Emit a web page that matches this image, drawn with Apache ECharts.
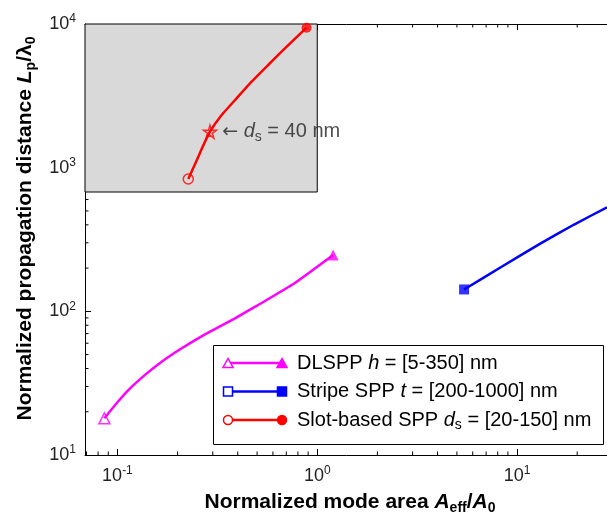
<!DOCTYPE html>
<html>
<head>
<meta charset="utf-8">
<script src="https://cdn.jsdelivr.net/npm/echarts@6/dist/echarts.min.js"></script>
<style>
  html, body { margin: 0; padding: 0; background: #fff; }
  #chart { width: 607px; height: 523px; }
</style>
</head>
<body>
<div id="chart"></div>
<script>
// DLSPP, h = [5-350] nm
const dlsppArea = [0.0860, 0.0973, 0.1134, 0.1374, 0.1665, 0.2097, 0.2742, 0.3873, 0.5266, 0.7727, 1.201];
const dlsppLength = [18.0, 22.3, 28.3, 36.1, 44.6, 55.3, 69.2, 89.4, 114.3, 157.4, 246.6];
// stripe SPP, t = [200-1000] nm (runs off the right edge)
const stripeArea = [5.43, 8.41, 13.0, 19.3, 28.2];
const stripeLength = [142, 205, 295, 402, 530];
// slot-based SPP, ds = [20-150] nm
const slotArea = [0.2262, 0.2443, 0.2639, 0.2904, 0.3322, 0.3948, 0.4693, 0.5680, 0.6887, 0.8842];
const slotLength = [834, 1055, 1349, 1780, 2325, 3039, 3966, 5183, 6771, 9424];
// ds = 40 nm point
const slotMark = [0.2904, 1780];
// shaded region
const insetArea = [0.0688, 1];
const insetLength = [677, 10000];

const xRange = [0.0688, 35.5];
const yRange = [10, 10000];
const xMinorTicks = [0.07, 0.08, 0.09, 0.2, 0.3, 0.4, 0.5, 0.6, 0.7, 0.8, 0.9, 2, 3, 4, 5, 6, 7, 8, 9, 20, 30];
const yMinorTicks = [20, 30, 40, 50, 60, 70, 80, 90, 200, 300, 400, 500, 600, 700, 800, 900,
  2000, 3000, 4000, 5000, 6000, 7000, 8000, 9000];

const FONT = "'Liberation Sans', Arial, sans-serif";
const MAGENTA = '#ff00ff', BLUE = '#0000ff', RED = '#ff0000';

const chart = echarts.init(document.getElementById('chart'));

function pairs(xs, ys) {
  return xs.map((x, i) => [x, ys[i]]);
}

// 10^n labels
function powLabel(v) {
  const e = Math.log10(v);
  const r = Math.round(e);
  if (Math.abs(e - r) > 1e-6) return '';
  return '{b|10}{s|' + r + '}';
}

const tickRich = {
  b: { fontFamily: FONT, fontSize: 18, color: '#222', lineHeight: 22 },
  s: { fontFamily: FONT, fontSize: 12, color: '#222', lineHeight: 12, verticalAlign: 'top' }
};

const titleRich = {
  b: { fontFamily: FONT, fontSize: 21, fontWeight: 'bold', color: '#000', lineHeight: 26 },
  bi: { fontFamily: FONT, fontSize: 21, fontWeight: 'bold', fontStyle: 'italic', color: '#000', lineHeight: 26 },
  bs: { fontFamily: FONT, fontSize: 14, fontWeight: 'bold', color: '#000', lineHeight: 14, verticalAlign: 'bottom' }
};

const textRich = {
  n: { fontFamily: FONT, fontSize: 20, color: '#222', lineHeight: 24 },
  a: { fontFamily: "'DejaVu Sans', sans-serif", fontSize: 19, color: '#222', lineHeight: 24 },
  i: { fontFamily: FONT, fontSize: 20, fontStyle: 'italic', color: '#222', lineHeight: 24 },
  sub: { fontFamily: FONT, fontSize: 14, color: '#222', lineHeight: 13, verticalAlign: 'bottom' }
};

// minor ticks (2..9 per decade), drawn inward
function minorTicks(data, dx, dy) {
  return {
    type: 'custom',
    silent: true,
    z: 0,
    data: data,
    renderItem: function (params, api) {
      const p = api.coord([api.value(0), api.value(1)]);
      return {
        type: 'line',
        shape: { x1: p[0], y1: p[1], x2: p[0] + dx, y2: p[1] + dy },
        style: { stroke: '#000', lineWidth: 1 }
      };
    }
  };
}

// which = 'both' | 'first'
function endMarkers(xs, ys, color, symbol, size, openFirst, which) {
  const open = { color: 'rgba(0,0,0,0)', borderColor: color, borderWidth: 1.5 };
  const filled = { color: color };
  const data = [{ value: [xs[0], ys[0]], itemStyle: openFirst ? open : filled }];
  if (which !== 'first') {
    data.push({ value: [xs[xs.length - 1], ys[ys.length - 1]], itemStyle: filled });
  }
  return {
    type: 'scatter',
    symbol: symbol,
    symbolSize: size,
    z: 4,
    silent: true,
    data: data
  };
}

const axisCommon = {
  type: 'log',
  logBase: 10,
  axisLine: { show: true, lineStyle: { color: '#000', width: 1 } },
  axisTick: { show: true, inside: true, length: 6, lineStyle: { color: '#000' } },
  splitLine: { show: false },
  minorTick: { show: false },
  minorSplitLine: { show: false }
};

// legend rows
const legendRows = [
  { color: MAGENTA, shape: 'triangle', text: '{n|DLSPP }{i|h}{n| = [5-350] nm}' },
  { color: BLUE, shape: 'rect', text: '{n|Stripe SPP }{i|t}{n| = [200-1000] nm}' },
  { color: RED, shape: 'circle', text: '{n|Slot-based SPP }{i|d}{sub|s}{n| = [20-150] nm}' }
];

function legendMarker(shape, cx, cy, color, filled) {
  const style = filled ? { fill: color, stroke: color, lineWidth: 1.5 }
                       : { fill: '#fff', stroke: color, lineWidth: 1.5 };
  if (shape === 'triangle') {
    return { type: 'polygon', shape: { points: [[cx - 5, cy + 4.5], [cx + 5, cy + 4.5], [cx, cy - 4.5]] }, style: style };
  }
  if (shape === 'rect') {
    return { type: 'rect', shape: { x: cx - 4.5, y: cy - 4.5, width: 9, height: 9 }, style: style };
  }
  return { type: 'circle', shape: { cx: cx, cy: cy, r: 4.5 }, style: style };
}

const legendGraphic = [{
  type: 'rect',
  shape: { x: 213.5, y: 345.5, width: 390, height: 99 },
  style: { fill: '#fff', stroke: '#000', lineWidth: 1 },
  z: 10
}];
legendRows.forEach(function (row, i) {
  const y = 363 + i * 28.5;
  legendGraphic.push({
    type: 'line', z: 11,
    shape: { x1: 228, y1: y, x2: 282, y2: y },
    style: { stroke: row.color, lineWidth: 2.5 }
  });
  const m1 = legendMarker(row.shape, 228, y, row.color, false); m1.z = 12;
  const m2 = legendMarker(row.shape, 282, y, row.color, true); m2.z = 12;
  legendGraphic.push(m1, m2);
  legendGraphic.push({
    type: 'text', z: 12,
    style: { x: 297, y: y, text: row.text, rich: textRich, verticalAlign: 'middle', align: 'left' }
  });
});

const option = {
  backgroundColor: '#fff',
  animation: false,
  grid: { left: 85, top: 24, right: -20, bottom: 68, outerBoundsMode: 'none', containLabel: false },
  xAxis: [
    Object.assign({}, axisCommon, {
      position: 'bottom',
      min: xRange[0], max: xRange[1],
      axisLabel: { formatter: powLabel, rich: tickRich, margin: 10, showMinLabel: true, showMaxLabel: true },
      name: '{b|Normalized mode area }{bi|A}{bs|eff}{b|/}{bi|A}{bs|0}',
      nameLocation: 'middle',
      nameGap: 34,
      nameTextStyle: { rich: titleRich, padding: [0, 12, 0, 0] }
    }),
    Object.assign({}, axisCommon, {
      position: 'top',
      min: xRange[0], max: xRange[1],
      axisLabel: { show: false }
    })
  ],
  yAxis: [
    Object.assign({}, axisCommon, {
      position: 'left',
      min: yRange[0], max: yRange[1],
      axisLabel: { formatter: powLabel, rich: tickRich, margin: 9 },
      name: '{b|Normalized propagation distance }{bi|L}{bs|p}{b|/}{b|λ}{bs|0}',
      nameLocation: 'middle',
      nameRotate: 90,
      nameGap: 47,
      nameTextStyle: { rich: titleRich, padding: [0, 0, 0, 22] }
    })
  ],
  graphic: legendGraphic,
  series: [
    minorTicks(xMinorTicks.map(v => [v, yRange[0]]), 0, -3.5),
    minorTicks(xMinorTicks.map(v => [v, yRange[1]]), 0, 3.5),
    minorTicks(yMinorTicks.map(v => [xRange[0], v]), 3.5, 0),
    {
      name: 'DLSPP',
      type: 'line',
      data: pairs(dlsppArea, dlsppLength),
      smooth: 0.12,
      symbol: 'none',
      lineStyle: { color: MAGENTA, width: 2.5, join: 'round' },
      markArea: {
        silent: true,
        itemStyle: { color: '#d9d9d9', borderColor: '#000', borderWidth: 1 },
        data: [[{ coord: [insetArea[0], insetLength[0]] }, { coord: [insetArea[1], insetLength[1]] }]]
      }
    },
    {
      name: 'Stripe SPP',
      type: 'line',
      data: pairs(stripeArea, stripeLength),
      smooth: 0.12,
      symbol: 'none',
      lineStyle: { color: BLUE, width: 2.5, join: 'round' }
    },
    {
      name: 'Slot-based SPP',
      type: 'line',
      data: pairs(slotArea, slotLength),
      smooth: 0.12,
      symbol: 'none',
      lineStyle: { color: RED, width: 2.5, join: 'round' }
    },
    endMarkers(dlsppArea, dlsppLength, MAGENTA, 'triangle', 11, true, 'both'),
    endMarkers(stripeArea, stripeLength, BLUE, 'rect', 10, false, 'first'),
    endMarkers(slotArea, slotLength, RED, 'circle', 10, true, 'both'),
    {
      type: 'scatter',
      symbol: 'path://M50,0 L61,35 L98,35 L68,57 L79,91 L50,70 L21,91 L32,57 L2,35 L39,35 Z',
      symbolSize: 13,
      z: 5,
      silent: true,
      itemStyle: { color: 'rgba(0,0,0,0)', borderColor: RED, borderWidth: 1.5 },
      label: {
        show: true,
        position: 'right',
        distance: 5,
        formatter: '{a|←}{n| }{i|d}{sub|s}{n| = 40 nm}',
        rich: textRich
      },
      data: [slotMark]
    }
  ]
};

chart.setOption(option);
</script>
</body>
</html>
